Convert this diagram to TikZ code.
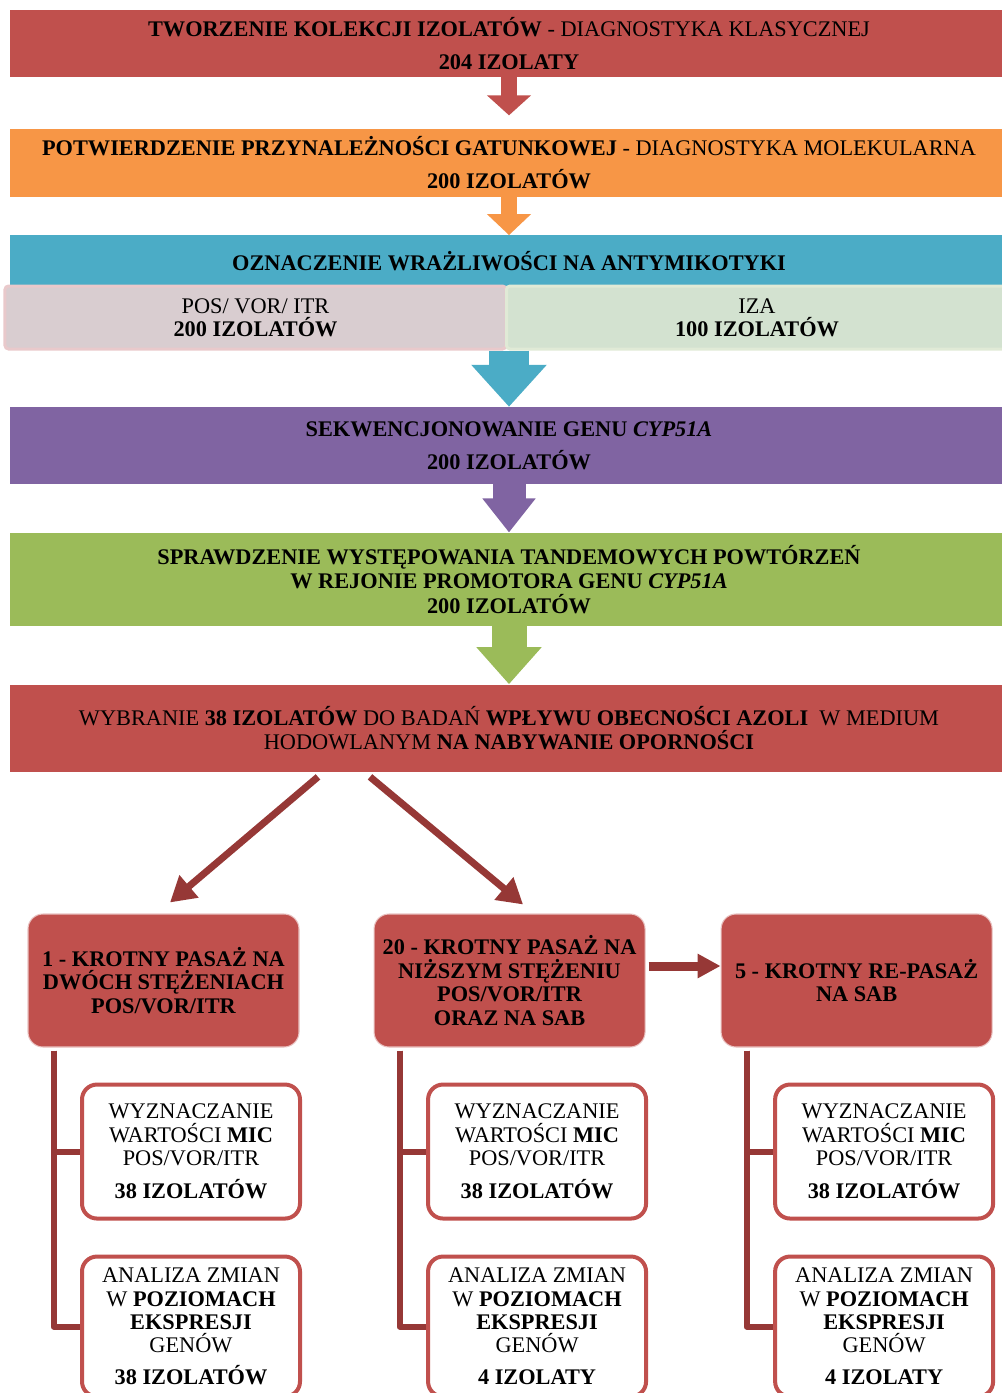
\documentclass[tikz,border=0pt]{standalone}
\usepackage{fontspec}
\setmainfont{Liberation Serif}
\usepackage{xcolor}
\definecolor{stageRed}{HTML}{C0504D}
\definecolor{stageOrange}{HTML}{F79646}
\definecolor{stageTeal}{HTML}{4BACC6}
\definecolor{stagePurple}{HTML}{8064A2}
\definecolor{stageGreen}{HTML}{9BBB59}
\definecolor{linkRed}{HTML}{963836}
\definecolor{posPink}{HTML}{D9CDD0}
\definecolor{posEdge}{HTML}{E9C9CB}
\definecolor{izaGreen}{HTML}{D3E2D0}
\definecolor{izaEdge}{HTML}{E0EAD6}
\usepackage{tikz}
\usetikzlibrary{
    arrows.meta,
    positioning
}
\tikzset{
    % Base style for all nodes
    stage base/.style={
        font=\fontsize{12.7}{13.3}\selectfont,
        align=center,
        text=black,
        inner sep=0pt,
    },
    % Full-width stage bars
    stage bar/.style={
        stage base,
        rectangle,
        fill=#1,
        minimum width=19.96cm,
    },
    % Antifungal groups under the teal bar
    drug group/.style n args={2}{
        stage base,
        rectangle,
        rounded corners=2pt,
        fill=#1,
        draw=#2,
        line width=0.06cm,
        minimum width=10.02cm,
        minimum height=1.26cm,
    },
    % Passage boxes - filled, rounded
    passage/.style={
        stage base,
        font=\fontsize{12.7}{13.3}\selectfont\bfseries,
        rectangle,
        rounded corners=0.3cm,
        fill=stageRed,
        draw=stageRed!35!white,
        line width=0.6pt,
        minimum width=5.42cm,
        minimum height=2.66cm,
    },
    % Result boxes - white with red frame
    result box/.style={
        stage base,
        rectangle,
        rounded corners=0.3cm,
        fill=white,
        draw=stageRed,
        line width=0.08cm,
        minimum width=4.36cm,
    },
    % Block arrow between the stage bars
    block arrow/.style n args={4}{
        draw=#1,
        line width=#2,
        -{Triangle[length=#3, width=#4]},
    },
    % Dark red arrows between passages
    link arrow/.style={
        draw=linkRed,
        line width=0.14cm,
        -{Triangle[length=0.5cm, width=0.56cm]},
    },
    % Tree line to the result boxes
    trunk/.style={
        draw=linkRed,
        line width=0.12cm,
        line join=round,
    },
}

\begin{document}
\begin{tikzpicture}
    \useasboundingbox (0,0) rectangle (20.02,-27.86);

    \node (collect) [stage bar=stageRed, minimum height=1.34cm] at (10.18,-0.87) {\textbf{TWORZENIE KOLEKCJI IZOLATÓW} - DIAGNOSTYKA KLASYCZNEJ\\[0.19cm]\textbf{204 IZOLATY}};
    \node (species) [stage bar=stageOrange, minimum height=1.36cm, below=1.02cm of collect] {\textbf{POTWIERDZENIE PRZYNALEŻNOŚCI GATUNKOWEJ} - DIAGNOSTYKA MOLEKULARNA\\[0.19cm]\textbf{200 IZOLATÓW}};
    \node (suscept) [stage bar=stageTeal, minimum height=1.04cm, below=0.76cm of species] {\textbf{OZNACZENIE WRAŻLIWOŚCI NA ANTYMIKOTYKI}};
    \node (pos) [drug group={posPink}{posEdge}] at (5.11,-6.35) {POS/ VOR/ ITR\\\textbf{200 IZOLATÓW}};
    \node (iza) [drug group={izaGreen}{izaEdge}] at (15.14,-6.35) {IZA\\\textbf{100 IZOLATÓW}};
    \node (cyp) [stage bar=stagePurple, minimum height=1.54cm, below=2.38cm of suscept] {\textbf{SEKWENCJONOWANIE GENU \textit{CYP51A}}\\[0.19cm]\textbf{200 IZOLATÓW}};
    \node (tandem) [stage bar=stageGreen, minimum height=1.86cm, below=0.96cm of cyp] {\textbf{SPRAWDZENIE WYSTĘPOWANIA TANDEMOWYCH POWTÓRZEŃ}\\[0.02cm]\textbf{W REJONIE PROMOTORA GENU \textit{CYP51A}}\\[0.02cm]\textbf{200 IZOLATÓW}};
    \node (select) [stage bar=stageRed, minimum height=1.74cm, below=1.16cm of tandem] {WYBRANIE \textbf{38 IZOLATÓW} DO BADAŃ \textbf{WPŁYWU OBECNOŚCI AZOLI}\ \ W MEDIUM\\HODOWLANYM \textbf{NA NABYWANIE OPORNOŚCI}};

    \node (once) [passage] at (3.27,-19.61) {1 - KROTNY PASAŻ NA\\DWÓCH STĘŻENIACH\\POS/VOR/ITR};
    \node (twenty) [passage, right=1.48cm of once] {20 - KROTNY PASAŻ NA\\NIŻSZYM STĘŻENIU\\POS/VOR/ITR\\ORAZ NA SAB};
    \node (five) [passage, right=1.5cm of twenty] {5 - KROTNY RE-PASAŻ\\NA SAB};

    \node (mic1) [result box, minimum height=2.68cm, below=0.7cm of once, xshift=0.55cm] {WYZNACZANIE\\WARTOŚCI \textbf{MIC}\\POS/VOR/ITR\\[0.19cm]\textbf{38 IZOLATÓW}};
    \node (expr1) [result box, minimum height=2.80cm, below=0.68cm of mic1] {ANALIZA ZMIAN\\W \textbf{POZIOMACH}\\\textbf{EKSPRESJI}\\GENÓW\\[0.17cm]\textbf{38 IZOLATÓW}};
    \node (mic2) [result box, minimum height=2.68cm, below=0.7cm of twenty, xshift=0.55cm] {WYZNACZANIE\\WARTOŚCI \textbf{MIC}\\POS/VOR/ITR\\[0.19cm]\textbf{38 IZOLATÓW}};
    \node (expr2) [result box, minimum height=2.80cm, below=0.68cm of mic2] {ANALIZA ZMIAN\\W \textbf{POZIOMACH}\\\textbf{EKSPRESJI}\\GENÓW\\[0.17cm]\textbf{4 IZOLATY}};
    \node (mic3) [result box, minimum height=2.68cm, below=0.7cm of five, xshift=0.55cm] {WYZNACZANIE\\WARTOŚCI \textbf{MIC}\\POS/VOR/ITR\\[0.19cm]\textbf{38 IZOLATÓW}};
    \node (expr3) [result box, minimum height=2.80cm, below=0.68cm of mic3] {ANALIZA ZMIAN\\W \textbf{POZIOMACH}\\\textbf{EKSPRESJI}\\GENÓW\\[0.17cm]\textbf{4 IZOLATY}};

    \draw [block arrow={stageRed}{0.32cm}{0.4cm}{0.86cm}, shorten >=0.26cm] (collect) -- (species);
    \draw [block arrow={stageOrange}{0.32cm}{0.42cm}{0.86cm}] (species) -- (suscept);
    \draw [block arrow={stageTeal}{0.8cm}{0.84cm}{1.46cm}] (suscept.south |- pos.south) -- (cyp);
    \draw [block arrow={stagePurple}{0.66cm}{0.68cm}{1.02cm}] (cyp) -- (tandem);
    \draw [block arrow={stageGreen}{0.7cm}{0.74cm}{1.26cm}] (tandem) -- (select);

    \draw [link arrow] ([xshift=-3.82cm, yshift=-0.1cm]select.south) -- ([xshift=0.13cm, yshift=0.22cm]once.north);
    \draw [link arrow] ([xshift=-2.78cm, yshift=-0.1cm]select.south) -- ([xshift=0.27cm, yshift=0.18cm]twenty.north);
    \draw [link arrow, line width=0.18cm, -{Triangle[length=0.46cm, width=0.46cm]}] ([xshift=0.06cm, yshift=0.29cm]twenty.east) -- ([yshift=0.29cm]five.west);

    \draw [trunk] ([xshift=-2.2cm, yshift=-0.06cm]once.south) |- (mic1.west);
    \draw [trunk] ([xshift=-2.2cm, yshift=-0.06cm]once.south) |- (expr1.west);
    \draw [trunk] ([xshift=-2.2cm, yshift=-0.06cm]twenty.south) |- (mic2.west);
    \draw [trunk] ([xshift=-2.2cm, yshift=-0.06cm]twenty.south) |- (expr2.west);
    \draw [trunk] ([xshift=-2.2cm, yshift=-0.06cm]five.south) |- (mic3.west);
    \draw [trunk] ([xshift=-2.2cm, yshift=-0.06cm]five.south) |- (expr3.west);
\end{tikzpicture}
\end{document}
